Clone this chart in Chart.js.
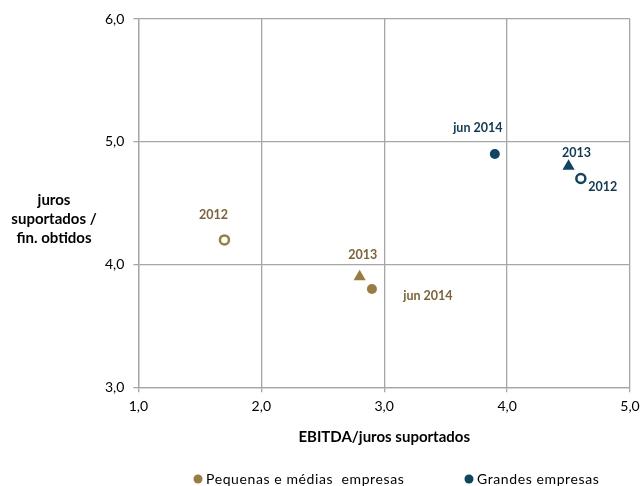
<!DOCTYPE html>
<html>
<head>
<meta charset="utf-8">
<script src="https://cdn.jsdelivr.net/npm/chart.js@4/dist/chart.umd.min.js"></script>
<style>
  html, body { margin: 0; padding: 0; background: #fff; }
  #wrap { width: 640px; height: 486px; }
</style>
</head>
<body>
<div id="wrap"><canvas id="chart"></canvas></div>
<script>
// períodos de cada ponto (primeiro ponto = jun 2014 para o símbolo da legenda)
var periodos = ['jun 2014', '2013', '2012'];
var pmeX = [2.9, 2.8, 1.7];
var pmeY = [3.8, 3.9, 4.2];
var geX = [3.9, 4.5, 4.6];
var geY = [4.9, 4.8, 4.7];
var xTicks = [1, 2, 3, 4, 5];
var yTicks = [3, 4, 5, 6];

var corPME = '#9c7b3e';
var corGE = '#0d4562';
var corTextoPME = '#7f6236';
var corTextoGE = '#0d3a55';
var fonte = 'Lato, "Open Sans", sans-serif';

function pontos(xs, ys) {
    return xs.map(function (x, i) { return { x: x, y: ys[i] }; });
}

// deslocamento das etiquetas em relação ao ponto
var offsetsPME = [[56, 7], [3, -22], [-11, -25]];
var offsetsGE = [[-17, -26], [8, -13], [22, 8]];

var etiquetas = {
    id: 'etiquetas',
    afterDatasetsDraw: function (chart) {
        var ctx = chart.ctx;
        ctx.save();
        ctx.font = 'bold 12.5px ' + fonte;
        ctx.textAlign = 'center';
        ctx.textBaseline = 'middle';
        chart.data.datasets.forEach(function (ds, d) {
            var meta = chart.getDatasetMeta(d);
            var offs = d === 0 ? offsetsPME : offsetsGE;
            ctx.fillStyle = d === 0 ? corTextoPME : corTextoGE;
            meta.data.forEach(function (pt, i) {
                ctx.fillText(periodos[i], pt.x + offs[i][0], pt.y + offs[i][1]);
            });
        });
        // título do eixo vertical, na horizontal
        ctx.font = 'bold 15px ' + fonte;
        ctx.fillStyle = '#000';
        ['juros', 'suportados /', 'fin. obtidos'].forEach(function (t, i) {
            ctx.fillText(t, 54, 200 + i * 19);
        });
        // legenda em baixo
        ctx.font = '14px ' + fonte;
        ctx.letterSpacing = '0.6px';
        ctx.textAlign = 'left';
        var itens = [[198, corPME, 'Pequenas e médias  empresas'], [469, corGE, 'Grandes empresas']];
        itens.forEach(function (it) {
            ctx.fillStyle = it[1];
            ctx.beginPath();
            ctx.arc(it[0], 479, 4.5, 0, Math.PI * 2);
            ctx.fill();
            ctx.fillStyle = '#000';
            ctx.fillText(it[2], it[0] + 8, 479);
        });
        ctx.restore();
    }
};

var ctx = document.getElementById('chart').getContext('2d');
var chart = new Chart(ctx, {
    type: 'scatter',
    data: {
        datasets: [{
            label: 'Pequenas e médias empresas',
            data: pontos(pmeX, pmeY),
            pointStyle: ['circle', 'triangle', 'circle'],
            pointRadius: [5, 7, 4.5],
            backgroundColor: [corPME, corPME, '#fff'],
            borderColor: corPME,
            borderWidth: [0, 0, 2.5],
            pointHoverRadius: 5
        }, {
            label: 'Grandes empresas',
            data: pontos(geX, geY),
            pointStyle: ['circle', 'triangle', 'circle'],
            pointRadius: [5, 7, 4.5],
            backgroundColor: [corGE, corGE, '#fff'],
            borderColor: corGE,
            borderWidth: [0, 0, 2.5],
            pointHoverRadius: 5
        }]
    },
    options: {
        responsive: true,
        maintainAspectRatio: false,
        animation: false,
        layout: { padding: { left: 96, right: 0, top: 19, bottom: 40 } },
        plugins: {
            tooltip: { enabled: false },
            legend: { display: false }
        },
        scales: {
            x: {
                type: 'linear',
                min: 1, max: 5,
                afterBuildTicks: function (axis) {
                    axis.ticks = xTicks.map(function (v) { return { value: v }; });
                },
                afterFit: function (axis) {
                    axis.paddingRight = 10;
                },
                ticks: {
                    color: '#000',
                    padding: 6,
                    font: { family: fonte, size: 14 },
                    callback: function (v) { return v.toFixed(1).replace('.', ','); }
                },
                grid: { color: '#a6a6a6', lineWidth: 1.3, tickLength: 5 },
                border: { color: '#a6a6a6', width: 1.3 },
                title: {
                    display: true,
                    text: 'EBITDA/juros suportados',
                    color: '#000',
                    font: { family: fonte, size: 15, weight: 'bold' },
                    padding: { top: 7, bottom: 0 }
                }
            },
            y: {
                type: 'linear',
                min: 3, max: 6,
                afterBuildTicks: function (axis) {
                    axis.ticks = yTicks.map(function (v) { return { value: v }; });
                },
                ticks: {
                    color: '#000',
                    padding: 9,
                    font: { family: fonte, size: 14 },
                    callback: function (v) { return v.toFixed(1).replace('.', ','); }
                },
                grid: { color: '#a6a6a6', lineWidth: 1.3, tickLength: 5 },
                border: { color: '#a6a6a6', width: 1.3 }
            }
        }
    },
    plugins: [etiquetas]
});
</script>
</body>
</html>
